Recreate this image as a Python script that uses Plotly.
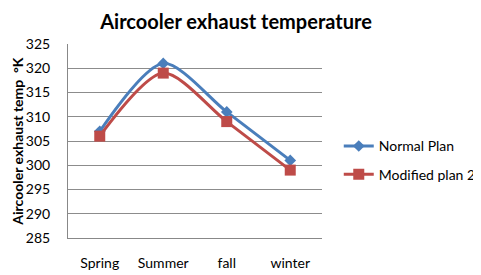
import plotly.graph_objects as go

seasons = ["Spring", "Summer", "fall", "winter"]
normal_plan = [307, 321, 311, 301]
modified_plan = [306, 319, 309, 299]
y_ticks = [285, 290, 295, 300, 305, 310, 315, 320, 325]

FONT = "Lato"

fig = go.Figure()
fig.add_trace(go.Scatter(
    x=seasons, y=normal_plan, name="Normal Plan", legendgroup="a",
    mode="lines+markers",
    line=dict(color="#4A7EBB", width=3, shape="spline", smoothing=0.8),
    marker=dict(symbol="diamond", size=9, color="#4A7EBB"),
))
fig.add_trace(go.Scatter(
    x=seasons, y=modified_plan, name="Modified plan 2", legendgroup="b",
    mode="lines+markers",
    line=dict(color="#BE4B48", width=3, shape="spline", smoothing=0.8),
    marker=dict(symbol="square", size=11, color="#BE4B48"),
))

# page body has an 8px margin, so the figure is sized/positioned to compensate
fig.update_layout(
    width=473, height=267,
    margin=dict(l=60, r=159, t=36, b=37, autoexpand=False),
    paper_bgcolor="white", plot_bgcolor="white",
    font=dict(family=FONT, size=14, color="black"),
    title=dict(text="<b>Aircooler exhaust temperature</b>", x=228 / 473, xanchor="center",
               y=0.948, yanchor="middle", font=dict(size=20, family=FONT)),
    showlegend=True,
    legend=dict(x=1.066, y=0.40, xanchor="left", yanchor="middle",
                font=dict(size=14, family=FONT), tracegroupgap=7,
                itemwidth=30),
    annotations=[dict(
        text="<b>Aircooler exhaust temp  °K</b>", xref="paper", yref="paper",
        x=-0.202, y=0.5, xanchor="center", yanchor="middle", textangle=-90,
        showarrow=False, font=dict(size=14, family=FONT),
    )],
)
fig.update_xaxes(
    type="category", range=[-0.5, 3.5],
    showline=True, linecolor="#888888", linewidth=1,
    showgrid=False, ticks="", tickfont=dict(size=14), ticklabelstandoff=12,
    automargin=False,
)
fig.update_yaxes(
    range=[285, 325], tickvals=y_ticks,
    showline=True, linecolor="#888888", linewidth=1,
    showgrid=True, gridcolor="#8c8c8c", gridwidth=1,
    ticks="", tickfont=dict(size=14), ticklabelstandoff=14,
    zeroline=False, automargin=False,
)

fig.write_html("out.html")
